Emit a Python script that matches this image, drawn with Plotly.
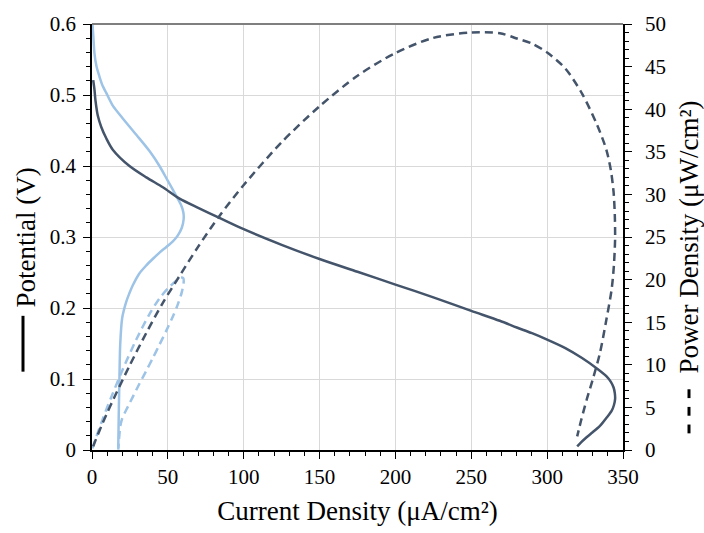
import plotly.graph_objects as go

# Polarization data: current density (uA/cm2) and cell potential (V)
cell_a_current = [0.8, 1.6, 2.3, 3.8, 6.1, 9.4, 13.7, 24.7, 35.8, 46.7, 57.7, 70.0, 84.0,
                  100.0, 125.0, 150.0, 175.0, 200.0, 225.0, 250.0, 268.8, 280.0, 290.0,
                  300.0, 312.0, 323.0, 333.0, 339.0, 342.0, 343.8, 344.6, 344.8, 344.0,
                  342.5, 339.0, 334.8, 330.0, 326.0, 322.5, 319.8]
cell_a_potential = [0.521, 0.508, 0.492, 0.471, 0.455, 0.439, 0.423, 0.400, 0.384, 0.370,
                    0.354, 0.341, 0.327, 0.311, 0.289, 0.269, 0.251, 0.233, 0.215, 0.196,
                    0.182, 0.1725, 0.1645, 0.1555, 0.1435, 0.1295, 0.1145, 0.104, 0.096,
                    0.088, 0.080, 0.072, 0.063, 0.055, 0.045, 0.034, 0.025, 0.018, 0.011,
                    0.005]

cell_b_current = [0.3, 0.8, 1.6, 3.0, 4.9, 7.0, 9.4, 13.7, 20.3, 29.2, 37.9, 44.5, 50.0,
                  55.5, 58.5, 60.2, 60.4, 59.2, 56.5, 53.3, 49.0, 44.5, 40.0, 35.8, 31.0,
                  26.9, 24.5, 22.6, 19.9, 18.6, 18.1, 17.7, 17.3]
cell_b_potential = [0.600, 0.585, 0.559, 0.540, 0.526, 0.513, 0.503, 0.485, 0.467, 0.444,
                    0.421, 0.400, 0.379, 0.358, 0.346, 0.335, 0.325, 0.313, 0.302, 0.294,
                    0.286, 0.278, 0.269, 0.260, 0.248, 0.232, 0.220, 0.209, 0.186, 0.149,
                    0.103, 0.058, 0.003]

# Power density (uW/cm2) = current density x potential
cell_a_power = [i * v for i, v in zip(cell_a_current, cell_a_potential)]
cell_b_power = [i * v for i, v in zip(cell_b_current, cell_b_potential)]

x_ticks = [0, 50, 100, 150, 200, 250, 300, 350]

DARK = "#44546A"
LIGHT = "#9DC3E6"
FONT = "Liberation Serif"

fig = go.Figure()

fig.add_trace(go.Scatter(x=cell_b_current, y=cell_b_potential, mode="lines",
                         line=dict(color=LIGHT, width=2.5, shape="spline", smoothing=0.8)))
fig.add_trace(go.Scatter(x=cell_b_current, y=cell_b_power, mode="lines", yaxis="y2",
                         line=dict(color=LIGHT, width=2.5, dash="8px,5px", shape="spline", smoothing=0.8)))
fig.add_trace(go.Scatter(x=cell_a_current, y=cell_a_potential, mode="lines",
                         line=dict(color=DARK, width=2.5, shape="spline", smoothing=0.8)))
fig.add_trace(go.Scatter(x=cell_a_current, y=cell_a_power, mode="lines", yaxis="y2",
                         line=dict(color=DARK, width=2.5, dash="8px,5px", shape="spline", smoothing=0.8)))

L, R, T, B = 92, 81, 20, 78
W, H = 704, 533
pw, ph = W - L - R, H - T - B


def px_x(px):
    return (px - L) / pw


def px_y(py):
    return (H - B - py) / ph


fig.update_layout(
    width=W, height=H,
    margin=dict(l=L, r=R, t=T, b=B, pad=0),
    paper_bgcolor="white", plot_bgcolor="white",
    showlegend=False,
    font=dict(family=FONT, size=21, color="black"),
    xaxis=dict(
        range=[0, 350], tickvals=x_ticks, ticks="outside", ticklen=7, tickwidth=1,
        tickcolor="black", showline=True, linecolor="black", linewidth=1.5,
        showgrid=True, gridcolor="#D9D9D9", gridwidth=1, zeroline=False,
        minor=dict(dtick=10, ticks="outside", ticklen=4, tickcolor="black", showgrid=False),
        title=dict(text="Current Density (μA/cm²)", font=dict(size=27, family=FONT), standoff=13),
        tickfont=dict(size=21, family=FONT),
    ),
    yaxis=dict(
        range=[0, 0.6], dtick=0.1, ticks="outside", ticklen=7, tickwidth=1,
        tickcolor="black", showline=True, linecolor="black", linewidth=1.5,
        showgrid=True, gridcolor="#D9D9D9", gridwidth=1, zeroline=False,
        minor=dict(dtick=0.02, ticks="outside", ticklen=4, tickcolor="black", showgrid=False),
        tickfont=dict(size=21, family=FONT), ticklabelstandoff=3,
    ),
    yaxis2=dict(
        range=[0, 50], dtick=5, overlaying="y", side="right", ticks="outside", ticklen=7,
        tickwidth=1, tickcolor="black", showline=True, linecolor="black", linewidth=1.5,
        showgrid=False, zeroline=False,
        minor=dict(dtick=1, ticks="outside", ticklen=4, tickcolor="black", showgrid=False),
        tickfont=dict(size=21, family=FONT), ticklabelstandoff=9,
    ),
)

# Frame line along the top of the plot area
fig.add_shape(type="line", xref="paper", yref="paper", x0=0, x1=1, y0=1, y1=1,
              line=dict(color="#7F7F7F", width=2))

# Left axis title with solid-line key
fig.add_annotation(text="Potential (V)", xref="paper", yref="paper",
                   x=px_x(26), y=px_y(238), textangle=-90, showarrow=False,
                   xanchor="center", yanchor="middle", font=dict(size=27, family=FONT))
fig.add_shape(type="line", xref="paper", yref="paper", x0=px_x(23), x1=px_x(23),
              y0=px_y(318), y1=px_y(375), line=dict(color="black", width=3))

# Right axis title with dashed-line key
fig.add_annotation(text="Power Density (μW/cm²)", xref="paper", yref="paper",
                   x=px_x(689), y=px_y(238), textangle=-90, showarrow=False,
                   xanchor="center", yanchor="middle", font=dict(size=27, family=FONT))
for y0, y1 in [(393, 402), (411, 420), (429, 438)]:
    fig.add_shape(type="line", xref="paper", yref="paper", x0=px_x(689), x1=px_x(689),
                  y0=px_y(y0), y1=px_y(y1), line=dict(color="black", width=3))

fig.write_html("out.html")
